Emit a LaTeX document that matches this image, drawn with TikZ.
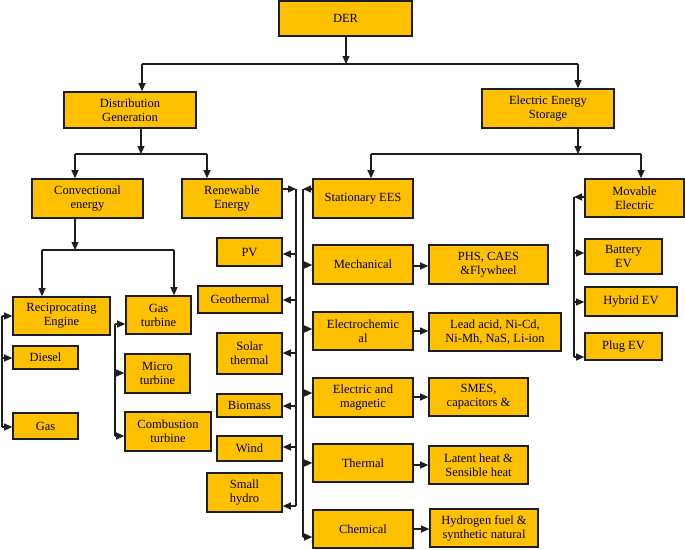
\documentclass[tikz,border=0pt]{standalone}
\usepackage{fontspec}
\setmainfont{Liberation Serif}
\usetikzlibrary{arrows.meta}
\definecolor{boxfill}{HTML}{FFC000}
\definecolor{lin}{HTML}{1E1E1E}
\newcommand\mybox[6]{\node[box,minimum width={(#4-#2)*1pt},minimum height={(#5-#3)*1pt}] (#1) at ({(#2+#4)/2},{(#3+#5)/2}) {#6};}
\begin{document}
\begin{tikzpicture}[x=1pt,y=-1pt,
  box/.style={draw=lin,fill=boxfill,line width=1.6pt,inner sep=0pt,align=center,text=black,font=\fontsize{12.5}{14}\selectfont},
  ln/.style={draw=lin,line width=1.1pt},
  arr/.style={ln,-{Triangle[length=8pt,width=7pt]}}]
\useasboundingbox (0,0) rectangle (685,549);
% boxes
\mybox{DER}{279}{1}{412}{36}{DER}
\mybox{DG}{64}{92}{196}{128}{Distribution\\Generation}
\mybox{EES}{482}{89}{614}{128}{Electric Energy\\Storage}
\mybox{Conv}{32}{179}{143}{218}{Convectional\\energy}
\mybox{Ren}{182}{179}{282}{218}{Renewable\\Energy}
\mybox{Stat}{313}{179}{413}{218}{Stationary EES}
\mybox{Mov}{585}{179}{684}{217}{Movable\\Electric}
\mybox{Recip}{13}{297}{110}{335}{Reciprocating\\Engine}
\mybox{GasT}{126}{296}{191}{334}{Gas\\turbine}
\mybox{Diesel}{13}{346}{78}{369}{Diesel}
\mybox{Gas}{13}{413}{78}{439}{Gas}
\mybox{Micro}{125}{354}{190}{393}{Micro\\turbine}
\mybox{Comb}{125}{412}{211}{451}{Combustion\\turbine}
\mybox{PV}{217}{238}{282}{266}{PV}
\mybox{Geo}{198}{286}{282}{313}{Geothermal}
\mybox{Solar}{217}{333}{282}{374}{Solar\\thermal}
\mybox{Bio}{217}{394}{282}{417}{Biomass}
\mybox{Wind}{217}{436}{282}{461}{Wind}
\mybox{Hydro}{207}{473}{282}{512}{Small\\hydro}
\mybox{Mech}{313}{245}{413}{284}{Mechanical}
\mybox{Echem}{313}{312}{413}{350}{Electrochemic\\al}
\mybox{EM}{313}{378}{413}{417}{Electric and\\magnetic}
\mybox{Therm}{313}{444}{413}{482}{Thermal}
\mybox{Chem}{313}{510}{413}{548}{Chemical}
\mybox{PHS}{429}{245}{548}{284}{PHS, CAES\\\&Flywheel}
\mybox{Lead}{429}{313}{561}{351}{Lead acid, Ni-Cd,\\Ni-Mh, NaS, Li-ion}
\mybox{SMES}{429}{378}{528}{416}{SMES,\\capacitors \&}
\mybox{Latent}{429}{446}{528}{484}{Latent heat \&\\Sensible heat}
\mybox{Hyd}{430}{509}{538}{547}{Hydrogen fuel \&\\synthetic natural}
\mybox{Bat}{585}{239}{662}{274}{Battery\\EV}
\mybox{Hyb}{585}{287}{677}{316}{Hybrid EV}
\mybox{Plug}{585}{333}{662}{360}{Plug EV}
% junction coordinates
\coordinate (j1) at (346,64);
\coordinate (j1l) at (142,64);
\coordinate (j1r) at (578,64);
\coordinate (j2) at (141,154);
\coordinate (j2l) at (75,154);
\coordinate (j2r) at (207,154);
\coordinate (j3) at (578,154);
\coordinate (j3l) at (371,154);
\coordinate (j3r) at (641,154);
\coordinate (j4) at (75,250);
\coordinate (j4l) at (42,250);
\coordinate (j4r) at (174,250);
% top tree
\draw[arr] (DER.south -| j1) -- (j1);
\draw[ln] (j1l) -- (j1r);
\draw[arr] (j1l) -- (j1l |- DG.north);
\draw[arr] (j1r) -- (j1r |- EES.north);
\draw[arr] (DG.south -| j2) -- (j2);
\draw[ln] (j2l) -- (j2r);
\draw[arr] (j2l) -- (j2l |- Conv.north);
\draw[arr] (j2r) -- (j2r |- Ren.north);
\draw[arr] (EES.south -| j3) -- (j3);
\draw[ln] (j3l) -- (j3r);
\draw[arr] (j3l) -- (j3l |- Stat.north);
\draw[arr] (j3r) -- (j3r |- Mov.north);
\draw[arr] (Conv.south -| j4) -- (j4);
\draw[ln] (j4l) -- (j4r);
\draw[arr] (j4l) -- (j4l |- Recip.north);
\draw[arr] (j4r) -- (j4r |- GasT.north);
% left bus (reciprocating)
\coordinate (a1) at (2,316);
\coordinate (a2) at (2,358);
\coordinate (a3) at (2,427);
\draw[ln] (a1) -- (a3);
\draw[arr] (a1) -- (a1 -| Recip.west);
\draw[arr] (a2) -- (a2 -| Diesel.west);
\draw[arr] (a3) -- (a3 -| Gas.west);
% gas turbine bus
\coordinate (b1) at (115,324);
\coordinate (b2) at (115,373);
\coordinate (b3) at (115,436);
\draw[ln] (b1) -- (b3);
\draw[arr] (b1) -- (b1 -| GasT.west);
\draw[arr] (b2) -- (b2 -| Micro.west);
\draw[arr] (b3) -- (b3 -| Comb.west);
% renewable bus
\coordinate (r0) at (296,189);
\coordinate (r1) at (296,254);
\coordinate (r2) at (296,300);
\coordinate (r3) at (296,353);
\coordinate (r4) at (296,406);
\coordinate (r5) at (296,447);
\coordinate (r6) at (296,506);
\draw[arr] (Ren.east |- r0) -- (r0);
\draw[ln] (r0) -- (r6);
\draw[arr] (r1) -- (r1 -| PV.east);
\draw[arr] (r2) -- (r2 -| Geo.east);
\draw[arr] (r3) -- (r3 -| Solar.east);
\draw[arr] (r4) -- (r4 -| Bio.east);
\draw[arr] (r5) -- (r5 -| Wind.east);
\draw[arr] (r6) -- (r6 -| Hydro.east);
% stationary bus
\coordinate (s0) at (303,189);
\coordinate (s1) at (303,265);
\coordinate (s2) at (303,329);
\coordinate (s3) at (303,393);
\coordinate (s4) at (303,463);
\coordinate (s5) at (303,537);
\draw[arr] (Stat.west |- s0) -- (s0);
\draw[ln] (s0) -- (s5);
\draw[arr] (s1) -- (s1 -| Mech.west);
\draw[arr] (s2) -- (s2 -| Echem.west);
\draw[arr] (s3) -- (s3 -| EM.west);
\draw[arr] (s4) -- (s4 -| Therm.west);
\draw[arr] (s5) -- (s5 -| Chem.west);
% right connections
\coordinate (t1) at (413,266);
\coordinate (t2) at (413,331);
\coordinate (t3) at (413,397);
\coordinate (t4) at (413,465);
\coordinate (t5) at (413,529);
\draw[arr] (t1 -| Mech.east) -- (t1 -| PHS.west);
\draw[arr] (t2 -| Echem.east) -- (t2 -| Lead.west);
\draw[arr] (t3 -| EM.east) -- (t3 -| SMES.west);
\draw[arr] (t4 -| Therm.east) -- (t4 -| Latent.west);
\draw[arr] (t5 -| Chem.east) -- (t5 -| Hyd.west);
% movable bus
\coordinate (m0) at (574,197);
\coordinate (m1) at (574,253);
\coordinate (m2) at (574,302);
\coordinate (m3) at (574,357);
\draw[arr] (Mov.west |- m0) -- (m0);
\draw[ln] (m0) -- (m3);
\draw[arr] (m1) -- (m1 -| Bat.west);
\draw[arr] (m2) -- (m2 -| Hyb.west);
\draw[arr] (m3) -- (m3 -| Plug.west);
\end{tikzpicture}
\end{document}
